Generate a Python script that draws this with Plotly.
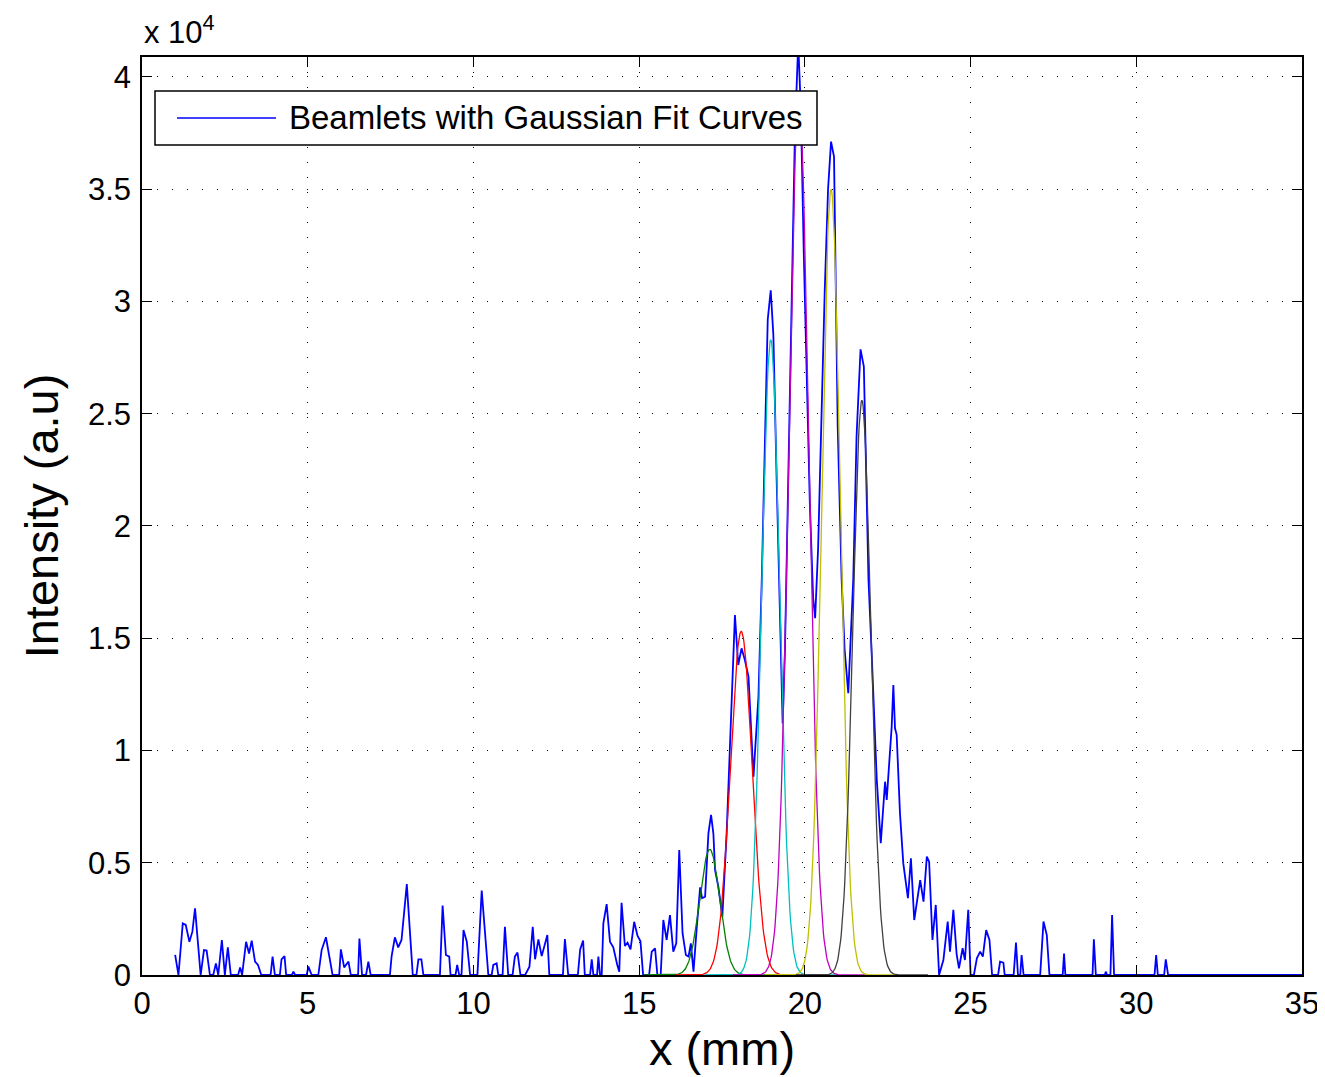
import numpy as np
import plotly.graph_objects as go

# ---- measured beamlet profile (x in mm, intensity in a.u.) ----
blue_x = [1.00, 1.10, 1.23, 1.32, 1.43, 1.52, 1.60, 1.68, 1.77, 1.87, 1.95, 2.05, 2.15, 2.23, 2.30,
          2.41, 2.50, 2.59, 2.68, 2.90, 2.96, 3.02, 3.14, 3.23, 3.31, 3.41, 3.50, 3.60, 3.88, 3.94,
          4.01, 4.16, 4.21, 4.30, 4.35, 4.52, 4.57, 4.62, 4.97, 5.02, 5.12, 5.32, 5.42, 5.55, 5.68,
          5.75, 5.95, 6.00, 6.10, 6.23, 6.30, 6.52, 6.56, 6.64, 6.76, 6.83, 6.90, 7.48, 7.53, 7.63,
          7.73, 7.83, 7.99, 8.17, 8.28, 8.34, 8.43, 8.49, 8.99, 9.07, 9.17, 9.27, 9.31, 9.46, 9.51,
          9.57, 9.64, 9.70, 9.80, 9.90, 10.12, 10.25, 10.45, 10.55, 10.60, 10.70, 10.75, 10.88, 10.95,
          11.05, 11.18, 11.25, 11.33, 11.42, 11.56, 11.69, 11.79, 11.86, 11.96, 12.06, 12.23, 12.29,
          12.70, 12.76, 12.86, 13.15, 13.22, 13.31, 13.36, 13.52, 13.57, 13.62, 13.73, 13.77, 13.82,
          13.87, 13.92, 14.02, 14.12, 14.22, 14.34, 14.40, 14.47, 14.57, 14.65, 14.74, 14.85, 14.95,
          15.04, 15.12, 15.30, 15.38, 15.48, 15.55, 15.65, 15.73, 15.83, 15.93, 16.03, 16.12, 16.21,
          16.31, 16.41, 16.49, 16.56, 16.64, 16.74, 16.84, 16.90, 16.99, 17.09, 17.17, 17.24, 17.29,
          17.39, 17.51, 17.64, 17.79, 17.89, 17.99, 18.09, 18.19, 18.30, 18.45, 18.60, 18.70, 18.80,
          18.88, 18.97, 19.05, 19.15, 19.25, 19.33, 19.40, 19.50, 19.60, 19.70, 19.80, 19.88, 19.97,
          20.05, 20.15, 20.25, 20.31, 20.40, 20.50, 20.60, 20.70, 20.79, 20.88, 20.99, 21.11, 21.20,
          21.31, 21.40, 21.46, 21.56, 21.68, 21.78, 21.92, 22.02, 22.10, 22.17, 22.29, 22.42, 22.47,
          22.57, 22.62, 22.67, 22.72, 22.77, 22.87, 22.97, 23.11, 23.20, 23.30, 23.48, 23.58, 23.68,
          23.75, 23.85, 23.95, 24.05, 24.18, 24.31, 24.38, 24.48, 24.58, 24.65, 24.76, 24.83, 24.93,
          25.00, 25.10, 25.19, 25.29, 25.37, 25.47, 25.57, 25.65, 25.83, 25.89, 25.99, 26.03, 26.30,
          26.37, 26.43, 26.50, 26.54, 26.60, 27.10, 27.20, 27.30, 27.38, 27.78, 27.82, 27.86, 28.68,
          28.72, 28.78, 29.05, 29.08, 29.12, 29.22, 29.27, 29.33, 30.55, 30.60, 30.65, 30.84, 30.89,
          30.96, 35.00]
blue_v = [900, 0, 2300, 2230, 1480, 1930, 2970, 1600, 0, 1110, 1090, 0, 0, 520, 0,
          1560, 0, 1230, 0, 0, 340, 0, 1480, 960, 1530, 600, 450, 0, 0, 820,
          0, 0, 700, 840, 0, 0, 150, 0, 0, 370, 0, 0, 1110, 1680, 450,
          0, 0, 1140, 340, 600, 0, 0, 1620, 0, 0, 600, 0, 0, 820, 1680,
          1230, 1560, 4050, 0, 0, 700, 700, 0, 0, 3090, 890, 820, 0, 0, 450,
          0, 0, 2000, 1480, 0, 0, 3760, 0, 0, 450, 520, 0, 0, 2150,
          0, 0, 820, 1000, 0, 0, 370, 2150, 700, 1590, 840, 1780, 0,
          0, 1600, 0, 0, 1140, 1530, 0, 0, 700, 0, 0, 820, 0,
          0, 2300, 3160, 1480, 1230, 450, 150, 3220, 1290, 1440, 1140, 2370, 1750,
          1500, 0, 0, 1040, 1190, 0, 0, 2450, 1560, 2670, 1040, 1410, 5570,
          1860, 890, 820, 1410, 150, 2150, 3900, 3420, 3490, 6310, 7130, 6300, 4680,
          3930, 2600, 6310, 12400, 16030, 13810, 14550, 14030, 13290, 8830, 12400, 17590, 24000,
          29200, 30500, 28500, 22000, 16500, 11200, 14500, 22500, 30500, 37500, 41500, 38500, 32000,
          27000, 21000, 16800, 15890, 19000, 25000, 30500, 35000, 37120, 36450, 24500, 17590, 14500,
          12550, 15500, 17600, 24000, 27870, 27100, 17590, 14180, 11500, 8690, 5870, 8610, 7800,
          10170, 11060, 12920, 10990, 10700, 7200, 4970, 3420, 5200, 2450, 4230, 3270, 5270,
          5050, 1560, 3120, 0, 670, 2380, 1040, 2900, 920, 300, 1190, 670, 2900,
          0, 0, 740, 1040, 820, 2000, 1560, 0, 0, 590, 550, 0, 0,
          1440, 0, 0, 890, 0, 0, 2380, 1780, 0, 0, 960, 0, 0,
          1590, 0, 0, 150, 0, 0, 2670, 0, 0, 890, 0, 0, 700,
          0, 0]

# ---- Gaussian fit parameters for the six beamlets ----
fit_centers = [17.13, 18.08, 18.97, 19.82, 20.79, 21.72]
fit_amplitudes = [5600, 15300, 28300, 39000, 35000, 25600]
fit_sigmas = [0.30, 0.33, 0.27, 0.30, 0.28, 0.27]

# ---- axis ticks ----
x_ticks = [0, 5, 10, 15, 20, 25, 30, 35]
y_tickvals = [0, 5000, 10000, 15000, 20000, 25000, 30000, 35000, 40000]
y_ticktext = ["0", "0.5", "1", "1.5", "2", "2.5", "3", "3.5", "4"]

legend_label = "Beamlets with Gaussian Fit Curves"

# styles (MATLAB classic colour order)
fit_colors = ["rgb(0,128,0)", "rgb(255,0,0)", "rgb(0,191,191)",
              "rgb(191,0,191)", "rgb(191,191,0)", "rgb(64,64,64)"]
BLUE = "rgb(0,0,255)"
FONT = "Liberation Sans, Arial, Helvetica, sans-serif"

# The page body has an 8px margin, so the figure is sized/placed to compensate.
OFF = 8
W, H = 1325 - OFF, 1077 - OFF
PW, PH = 1160, 918
ML, MT = 142 - OFF, 57 - OFF
MR, MB = W - ML - PW, H - MT - PH


def px(xp):
    """page x pixel -> paper coordinate"""
    return (xp - OFF - ML) / PW


def py(yp):
    """page y pixel -> paper coordinate"""
    return (MT + PH - (yp - OFF)) / PH


fig = go.Figure()
fig.add_trace(go.Scatter(x=blue_x, y=blue_v, mode="lines",
                         line=dict(color=BLUE, width=1.8),
                         name=legend_label, showlegend=False))

for c, a, s, col in zip(fit_centers, fit_amplitudes, fit_sigmas, fit_colors):
    xs = np.linspace(c - 2.0, c + 2.0, 201)
    ys = a * np.exp(-(xs - c) ** 2 / (2 * s ** 2))
    fig.add_trace(go.Scatter(x=xs, y=ys, mode="lines",
                             line=dict(color=col, width=1.3),
                             showlegend=False, hoverinfo="skip"))

axis_common = dict(
    showline=True, linecolor="black", linewidth=1.5, mirror="ticks",
    ticks="inside", ticklen=10, tickwidth=1, tickcolor="black",
    showgrid=True, gridcolor="black", gridwidth=1, griddash="1px,14px",
    zeroline=False, automargin=False,
    tickfont=dict(family=FONT, size=31, color="black"),
)

fig.update_layout(
    width=W, height=H,
    paper_bgcolor="white", plot_bgcolor="white",
    margin=dict(l=ML, r=MR, t=MT, b=MB, autoexpand=False),
    font=dict(family=FONT, color="black"),
    showlegend=False,
    xaxis=dict(range=[0, 35], tickvals=x_ticks, ticktext=[str(t) for t in x_ticks],
               title=dict(text="x (mm)", font=dict(family=FONT, size=47, color="black"),
                          standoff=12),
               **axis_common),
    yaxis=dict(range=[0, 40890], tickvals=y_tickvals, ticktext=y_ticktext,
               ticklabelstandoff=3,
               title=dict(text="Intensity (a.u)", font=dict(family=FONT, size=47, color="black"),
                          standoff=14),
               **axis_common),
    shapes=[
        dict(type="rect", xref="paper", yref="paper", layer="above",
             x0=px(155), x1=px(817), y0=py(145), y1=py(91),
             fillcolor="white", line=dict(color="black", width=1.5)),
        dict(type="line", xref="paper", yref="paper", layer="above",
             x0=px(177), x1=px(276), y0=py(118), y1=py(118),
             line=dict(color=BLUE, width=1.5)),
    ],
    annotations=[
        dict(text="x 10<sup>4</sup>", xref="paper", yref="paper",
             x=0, y=1, xanchor="left", yanchor="bottom", yshift=5,
             showarrow=False, font=dict(family=FONT, size=31, color="black")),
        dict(text=legend_label, xref="paper", yref="paper",
             x=px(287), y=py(118), xanchor="left", yanchor="middle",
             showarrow=False, font=dict(family=FONT, size=33, color="black")),
    ],
)

fig.write_html("out.html")
